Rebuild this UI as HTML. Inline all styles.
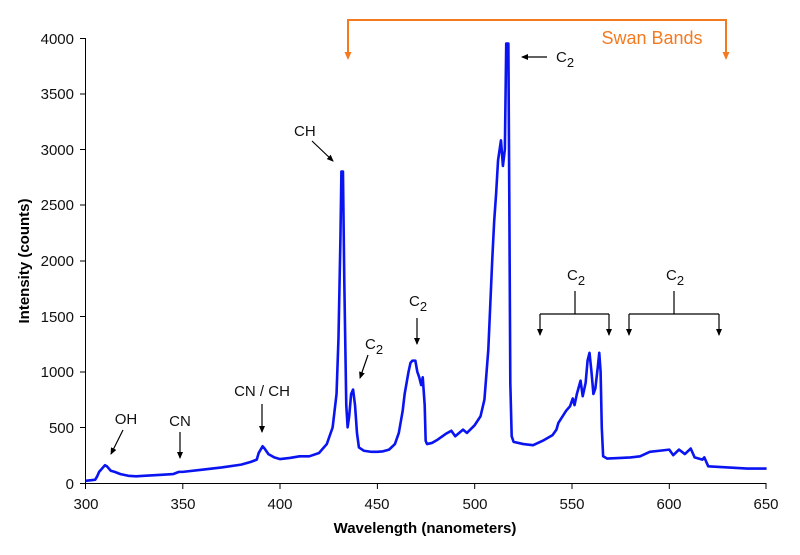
<!DOCTYPE html>
<html><head><meta charset="utf-8"><style>
body{margin:0;background:#fff}
svg{display:block;font-family:"Liberation Sans",Arial,sans-serif}
</style></head><body>
<svg width="800" height="555" viewBox="0 0 800 555" xmlns="http://www.w3.org/2000/svg">
<defs>
<marker id="ab" markerWidth="8" markerHeight="8" refX="6" refY="3" orient="auto" markerUnits="userSpaceOnUse"><path d="M0,0 L7,3 L0,6 z" fill="#000"/></marker>
<marker id="ao" markerWidth="8" markerHeight="10" refX="6" refY="3.5" orient="auto" markerUnits="userSpaceOnUse"><path d="M0,0 L8,3.5 L0,7 z" fill="#f47a20"/></marker>
</defs>
<!-- axes -->
<g stroke="#000" stroke-width="1" fill="none">
<path d="M85.5,38 V483.5 H766"/>
<path d="M80,38.5h5M80,94h5M80,149.5h5M80,205h5M80,261h5M80,316.5h5M80,372h5M80,427.5h5M80,483.5h5"/>
<path d="M85.5,483v6M182.8,483v6M280,483v6M377.4,483v6M474.7,483v6M572,483v6M669.3,483v6M766,483v6"/>
</g>
<g font-size="15" fill="#111" text-anchor="end">
<text x="74" y="44">4000</text><text x="74" y="99">3500</text><text x="74" y="155">3000</text>
<text x="74" y="210">2500</text><text x="74" y="266">2000</text><text x="74" y="322">1500</text>
<text x="74" y="377">1000</text><text x="74" y="433">500</text><text x="74" y="489">0</text>
</g>
<g font-size="15" fill="#111" text-anchor="middle">
<text x="86" y="509">300</text><text x="183" y="509">350</text><text x="280" y="509">400</text>
<text x="377" y="509">450</text><text x="475" y="509">500</text><text x="572" y="509">550</text>
<text x="669" y="509">600</text><text x="766" y="509">650</text>
</g>
<text x="425" y="533" font-size="15" font-weight="bold" text-anchor="middle">Wavelength (nanometers)</text>
<text transform="translate(29,261) rotate(-90)" font-size="15" font-weight="bold" text-anchor="middle">Intensity (counts)</text>
<!-- spectrum -->
<g transform="translate(85.5,483) scale(1.946,-0.11125) translate(-300,0)">
<polyline vector-effect="non-scaling-stroke" fill="none" stroke="#0a14f0" stroke-width="2.6" stroke-linejoin="round" points="
300,20 303,25 305,30 306,60 307,100 309,140 310,160 311,150 313,110 315,100 318,80 322,65 326,60 330,65 340,75 345,80 348,100 350,100 360,120 370,140 380,165 385,190 388,210 389,270 390,300 391,330 392,310 394,260 397,230 400,215 405,225 410,240 415,240 420,270 424,350 427,500 429,800 430,1300 431,2200 431.5,2800 432.3,2800 433,1800 434,700 434.7,500 435.5,600 436.5,800 437.5,840 438.5,700 439.5,450 440.5,320 443,290 447,280 450,280 453,285 456,300 459,350 461,450 463,650 464,800 465,900 466,1000 467,1080 468,1100 469.5,1100 470.5,1000 471.5,950 472.5,880 473.3,950 474.3,700 474.8,380 475.5,350 478,360 481,390 485,440 488,470 490,420 494,480 496,450 500,520 503,600 505,750 507,1200 509,2000 510,2350 511,2600 512,2900 513.5,3080 514.5,2850 515.5,3000 516.2,3950 517.3,3950 517.8,2500 518.3,900 519,420 520,370 525,350 530,340 535,380 540,430 542,480 543,540 547,650 549,690 550.4,760 551.3,700 552.5,800 554.4,920 555.5,780 557,900 558,1100 559,1170 560,1000 561,800 562,850 563.3,1050 564,1170 564.7,1000 565.3,500 566,240 568,220 575,225 580,230 585,240 590,280 595,290 600,300 602,250 605,300 608,260 611,310 613,230 617,210 618,230 620,150 630,140 640,130 650,130"/>
</g>
<!-- Swan bands bracket -->
<g stroke="#f47a20" stroke-width="2" fill="none">
<path d="M348,58 V20 H726 V58" marker-end="url(#ao)"/>
<path d="M348,20 V58" marker-end="url(#ao)"/>
</g>
<text x="652" y="44" font-size="18" fill="#f47a20" text-anchor="middle">Swan Bands</text>
<!-- annotations -->
<g stroke="#000" stroke-width="1.2" fill="none" marker-end="url(#ab)">
<path d="M312,141 L333,161"/>
<path d="M368,355 L360,378"/>
<path d="M262,404 V432"/>
<path d="M123,430 L111,454"/>
<path d="M180,432 V458"/>
<path d="M417,318 V344"/>
<path d="M547,57 H522"/>
<path d="M540,314 V335"/><path d="M609,314 V335"/>
<path d="M629,314 V335"/><path d="M719,314 V335"/>
</g>
<g stroke="#000" stroke-width="1.2" fill="none">
<path d="M575,291 V314 M540,314 H609"/>
<path d="M674,291 V314 M629,314 H719"/>
</g>
<g font-size="15" fill="#111">
<text x="294" y="136">CH</text>
<text x="365" y="349">C<tspan font-size="13" dy="5">2</tspan></text>
<text x="262" y="396" text-anchor="middle">CN / CH</text>
<text x="126" y="424" text-anchor="middle">OH</text>
<text x="180" y="426" text-anchor="middle">CN</text>
<text x="409" y="306">C<tspan font-size="13" dy="5">2</tspan></text>
<text x="556" y="62">C<tspan font-size="13" dy="5">2</tspan></text>
<text x="567" y="280">C<tspan font-size="13" dy="5">2</tspan></text>
<text x="666" y="280">C<tspan font-size="13" dy="5">2</tspan></text>
</g>
</svg>
</body></html>
